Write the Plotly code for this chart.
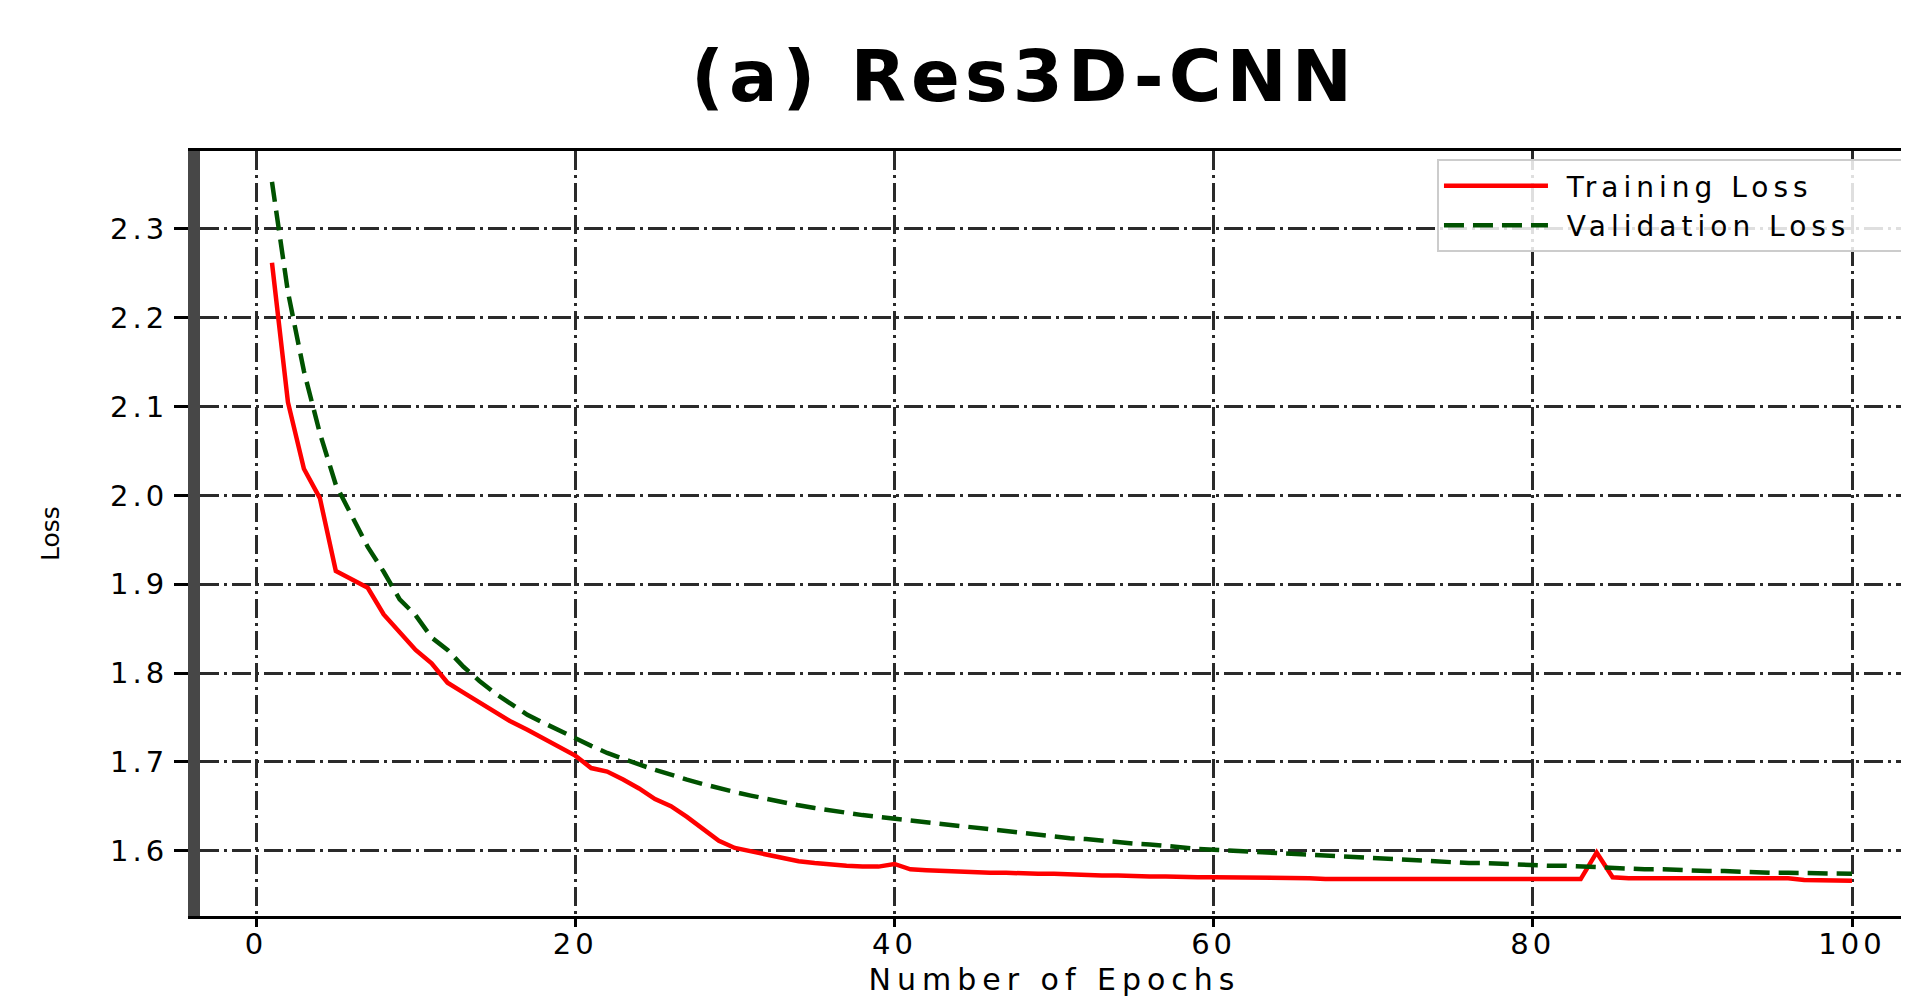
import plotly.graph_objects as go

epochs = list(range(1, 101))

training_loss = [
    2.262, 2.105, 2.030, 1.997, 1.915, 1.905, 1.896, 1.866, 1.846, 1.826,
    1.811, 1.789, 1.778, 1.767, 1.756, 1.745, 1.736, 1.726, 1.717, 1.707,
    1.693, 1.689, 1.680, 1.670, 1.658, 1.650, 1.638, 1.625, 1.611, 1.603,
    1.599, 1.595, 1.591, 1.588, 1.586, 1.584, 1.583, 1.582, 1.582, 1.585,
    1.579, 1.578, 1.577, 1.576, 1.575, 1.575, 1.575, 1.574, 1.574, 1.574,
    1.573, 1.573, 1.572, 1.572, 1.571, 1.571, 1.571, 1.570, 1.570, 1.570,
    1.570, 1.569, 1.569, 1.569, 1.569, 1.569, 1.568, 1.568, 1.568, 1.568,
    1.568, 1.568, 1.567, 1.567, 1.567, 1.567, 1.567, 1.567, 1.567, 1.567,
    1.567, 1.567, 1.568, 1.598, 1.570, 1.569, 1.569, 1.569, 1.569, 1.568,
    1.568, 1.568, 1.568, 1.569, 1.569, 1.569, 1.567, 1.567, 1.566, 1.566,
]

validation_loss = [
    2.353, 2.229, 2.140, 2.070, 2.012, 1.978, 1.942, 1.914, 1.883, 1.865,
    1.840, 1.826, 1.807, 1.791, 1.777, 1.765, 1.753, 1.744, 1.735, 1.726,
    1.718, 1.710, 1.703, 1.697, 1.691, 1.685, 1.680, 1.675, 1.670, 1.666,
    1.662, 1.658, 1.654, 1.651, 1.648, 1.645, 1.643, 1.640, 1.638, 1.636,
    1.634, 1.632, 1.630, 1.628, 1.626, 1.624, 1.621, 1.619, 1.617, 1.616,
    1.614, 1.613, 1.611, 1.610, 1.608, 1.607, 1.605, 1.604, 1.602, 1.601,
    1.600, 1.599, 1.598, 1.597, 1.596, 1.595, 1.594, 1.593, 1.592, 1.591,
    1.590, 1.589, 1.588, 1.588, 1.587, 1.586, 1.586, 1.585, 1.584, 1.584,
    1.583, 1.583, 1.582, 1.582, 1.581, 1.580, 1.579, 1.579, 1.578, 1.578,
    1.577, 1.577, 1.576, 1.576, 1.575, 1.575, 1.575, 1.574, 1.574, 1.574,
]

x_ticks = [0, 20, 40, 60, 80, 100]
x_tick_labels = ["0", "20", "40", "60", "80", "100"]
y_ticks = [1.6, 1.7, 1.8, 1.9, 2.0, 2.1, 2.2, 2.3]
y_tick_labels = ["1.6", "1.7", "1.8", "1.9", "2.0", "2.1", "2.2", "2.3"]

title_text = "(a) Res3D-CNN"
x_title = "Number of Epochs"
y_title = "Loss"
train_name = "Training Loss"
val_name = "Validation Loss"

FONT = "DejaVu Sans"


def spaced(text, px):
    return "<span style='letter-spacing:%dpx'>%s</span>" % (px, text)


fig = go.Figure()
fig.add_trace(go.Scatter(
    x=epochs, y=training_loss, mode="lines",
    name=spaced("\u00a0" + train_name, 5),
    line=dict(color="#ff0000", width=4.5), legendgroup="a",
))
fig.add_trace(go.Scatter(
    x=epochs, y=validation_loss, mode="lines",
    name=spaced("\u00a0" + val_name + "\u00a0\u00a0\u00a0\u00a0", 5),
    line=dict(color="#005200", width=4.5, dash="20px,9px"), legendgroup="b",
))

# page body has an 8px margin, so the figure is 8px smaller and shifted
fig.update_layout(
    width=1901, height=989,
    paper_bgcolor="white", plot_bgcolor="white",
    margin=dict(l=192, r=0, t=143, b=81, pad=0, autoexpand=False),
    font=dict(family=FONT, color="black"),
    title=dict(
        text=spaced(title_text, 5), x=0.5345, xref="container", xanchor="center",
        y=1 - 68 / 989, yref="container", yanchor="middle",
        font=dict(family=FONT, size=72, color="black", weight="bold"),
    ),
    showlegend=True,
    legend=dict(
        x=0.7238, y=0.9895, xanchor="left", yanchor="top",
        bgcolor="rgba(255,255,255,0.85)", bordercolor="#cccccc", borderwidth=2,
        font=dict(family=FONT, size=28, color="black"),
        itemwidth=104, tracegroupgap=0,
    ),
)

fig.update_xaxes(
    range=[-3.51, 103.57],
    tickmode="array", tickvals=x_ticks,
    ticktext=[spaced(t, 4) for t in x_tick_labels],
    ticks="outside", ticklen=8, tickwidth=3, tickcolor="black",
    tickfont=dict(family=FONT, size=29, color="black"),
    ticklabelstandoff=-8,
    showline=True, linewidth=3, linecolor="black", mirror=True,
    showgrid=True, gridcolor="#2a2a2a", gridwidth=3, griddash="19px,5px,3px,5px",
    zeroline=False,
    title=dict(text=spaced(x_title, 6), font=dict(family=FONT, size=30, color="black"), standoff=22),
)
fig.update_yaxes(
    range=[1.5264, 2.3878],
    tickmode="array", tickvals=y_ticks,
    ticktext=[spaced(t, 4) for t in y_tick_labels],
    ticks="outside", ticklen=14, tickwidth=3, tickcolor="black",
    tickfont=dict(family=FONT, size=29, color="black"),
    showline=True, linewidth=12, linecolor="#474747", mirror=False,
    showgrid=True, gridcolor="#2a2a2a", gridwidth=3, griddash="19px,5px,3px,5px",
    zeroline=False,
    title=dict(text=y_title, font=dict(family=FONT, size=25, color="black"), standoff=48),
)

fig.write_html("out.html")
